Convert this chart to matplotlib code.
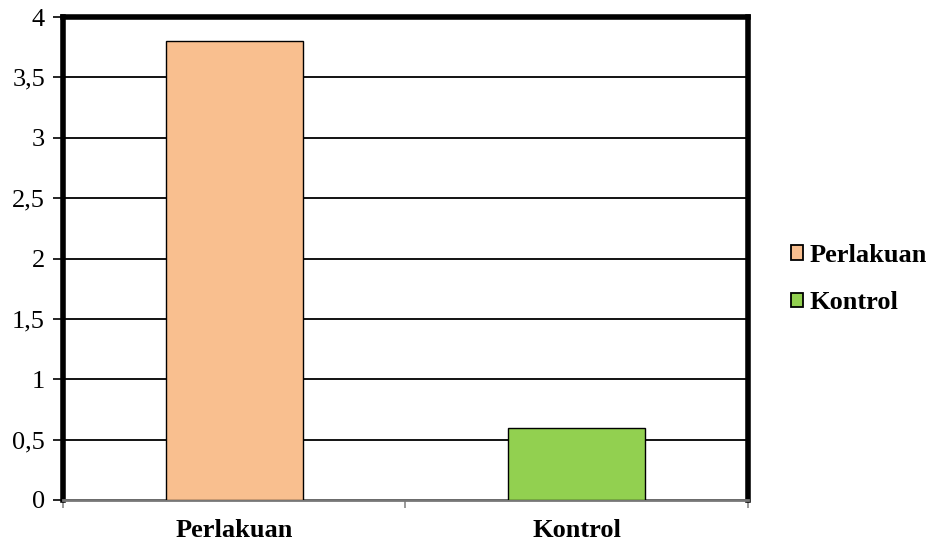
import matplotlib
matplotlib.use("Agg")
import matplotlib.pyplot as plt
from matplotlib.patches import Patch
from matplotlib.ticker import FuncFormatter

categories = ["Perlakuan", "Kontrol"]
values = [3.8, 0.6]
colors = ["#F9BF8F", "#92D050"]
yticks = [0, 0.5, 1, 1.5, 2, 2.5, 3, 3.5, 4]

plt.rcParams['font.family'] = ['Liberation Serif', 'DejaVu Serif']

fig = plt.figure(figsize=(9.29, 5.44), dpi=100)
ax = fig.add_axes([63/929, 1-500/544, (748-63)/929, (500-17)/544])

xs = list(range(len(categories)))
for i, (c, v, col) in enumerate(zip(categories, values, colors)):
    ax.bar(xs[i], v, width=0.4, color=col, edgecolor="black", linewidth=1.0, zorder=3, label=c)

ax.set_xlim(-0.5, len(categories) - 0.5)
ax.set_ylim(0, 4)
ax.set_yticks(yticks)
ax.yaxis.set_major_formatter(FuncFormatter(lambda v, p: ("%g" % v).replace(".", ",")))
ax.yaxis.grid(True, color="black", linewidth=1.3, zorder=0)
ax.set_axisbelow(True)

ax.set_xticks(xs)
ax.set_xticklabels(categories, fontsize=19, fontweight="bold")
ax.tick_params(axis="x", which="major", length=0, pad=14)
ax.set_xticks([-0.5, 0.5, 1.5], minor=True)
ax.tick_params(axis="x", which="minor", length=6, color="#888888", width=1.2)
ax.tick_params(axis="y", labelsize=19, length=7, width=1.2, color="black", pad=6)

for s in ["left", "top", "right"]:
    ax.spines[s].set_linewidth(4)
    ax.spines[s].set_color("black")
ax.spines["bottom"].set_linewidth(2)
ax.spines["bottom"].set_color("#777777")

handles = [Patch(facecolor=col, edgecolor="black", linewidth=1.3, label=c) for c, col in zip(categories, colors)]
fig.legend(handles=handles, loc="center left", bbox_to_anchor=(791/929, 1-279/544),
           frameon=False, prop={"weight": "bold", "size": 19},
           borderpad=0, borderaxespad=0,
           handlelength=0.47, handleheight=0.47, handletextpad=0.25, labelspacing=0.93)

fig.savefig("out.png", dpi=100)
